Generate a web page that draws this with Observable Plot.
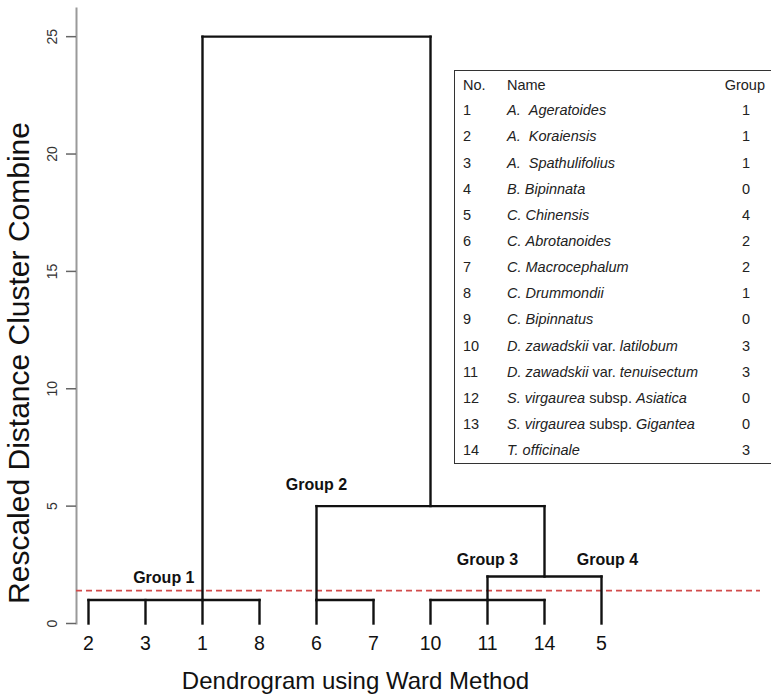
<!DOCTYPE html>
<html>
<head>
<meta charset="utf-8">
<script src="https://cdn.jsdelivr.net/npm/d3@7"></script>
<script src="https://cdn.jsdelivr.net/npm/@observablehq/plot@0.6"></script>
<style>
  html, body { margin: 0; padding: 0; background: #fff; overflow: hidden; }
  #wrap { position: relative; width: 771px; height: 698px; overflow: hidden; font-family: "Liberation Sans", Arial, sans-serif; }
  #wrap svg { position: absolute; left: 0; top: 0; }
  #legend { position: absolute; left: 454px; top: 70px; width: 330px; height: 394px; border: 1.5px solid #333; box-sizing: border-box; background: #fff; color: #222; font-size: 14.5px; }
  .row { position: absolute; left: 0; width: 100%; height: 26px; line-height: 26px; white-space: nowrap; }
  .c-no { position: absolute; left: 8px; }
  .c-name { position: absolute; left: 52px; }
  .c-grp { position: absolute; left: 270px; width: 42px; text-align: center; }
  .c-grph { position: absolute; left: 250px; width: 60px; text-align: right; }
</style>
</head>
<body>
<div id="wrap"></div>
<script>
// ---- Data ----
const leafOrder = ["2", "3", "1", "8", "6", "7", "10", "11", "14", "5"];
const nodeIds = ["G1", "G2a", "G3", "G34", "G2", "root"];
const nodeHeights = [1, 1, 1, 2, 5, 25];
const nodeChildren = [["2", "3", "1", "8"], ["6", "7"], ["10", "11", "14"], ["G3", "5"], ["G2a", "G34"], ["G1", "G2"]];
const nodeStems = ["1", "6", "11", "14", "10", null];
const cutHeight = 1.4;
const yTicks = [0, 5, 10, 15, 20, 25];
const groupLabels = ["Group 1", "Group 2", "Group 3", "Group 4"];
const groupLeaves = ["1", "6", "11", "5"];
const groupHeights = [1.95, 5.9, 2.7, 2.7];
const yTitle = "Rescaled Distance Cluster Combine";
const xTitle = "Dendrogram using Ward Method";

const tableNo = [1, 2, 3, 4, 5, 6, 7, 8, 9, 10, 11, 12, 13, 14];
const tableName = [
  "A.  Ageratoides", "A.  Koraiensis", "A.  Spathulifolius", "B. Bipinnata",
  "C. Chinensis", "C. Abrotanoides", "C. Macrocephalum", "C. Drummondii",
  "C. Bipinnatus", "D. zawadskii var. latilobum", "D. zawadskii var. tenuisectum",
  "S. virgaurea subsp. Asiatica", "S. virgaurea subsp. Gigantea", "T. officinale"
];
const tableGroup = [1, 1, 1, 0, 4, 2, 2, 1, 0, 3, 3, 0, 0, 3];
const tableHeader = ["No.", "Name", "Group"];

// ---- Derive dendrogram segments ----
const idx = new Map(nodeIds.map((d, i) => [d, i]));
const stemOf = c => idx.has(c) ? nodeStems[idx.get(c)] : c;
const heightOf = c => idx.has(c) ? nodeHeights[idx.get(c)] : 0;
const segs = [];
nodeIds.forEach((id, i) => {
  const h = nodeHeights[i];
  const xs = nodeChildren[i].map(stemOf).sort((a, b) => leafOrder.indexOf(a) - leafOrder.indexOf(b));
  segs.push({x1: xs[0], x2: xs[xs.length - 1], y1: h, y2: h});
  nodeChildren[i].forEach(c => segs.push({x1: stemOf(c), x2: stemOf(c), y1: heightOf(c), y2: h}));
});

const groupRows = groupLabels.map((t, i) => ({t, x: groupLeaves[i], y: groupHeights[i]}));
const font = "'Liberation Sans', Arial, sans-serif";
const gStyle = {x: "x", y: "y", text: "t", fontSize: 16, fontWeight: "bold", fill: "#111"};

const chart = Plot.plot({
  width: 771,
  height: 698,
  marginLeft: 76,
  marginRight: 11,
  marginTop: 8,
  marginBottom: 75,
  x: {type: "point", domain: leafOrder, range: [86, 603], padding: 0, axis: null},
  y: {domain: [0, 26.2], axis: null},
  style: {fontFamily: font, background: "white", color: "#111", overflow: "visible"},
  marks: [
    Plot.frame({anchor: "left", stroke: "#9a9a9a", strokeWidth: 2}),
    Plot.axisY({ticks: yTicks, tickSize: 10, tickFormat: () => "", stroke: "#666", strokeWidth: 1.5}),
    Plot.text(yTicks, {y: d => d, text: d => String(d), frameAnchor: "left", textAnchor: "middle", dx: -24, rotate: -90, fontSize: 14, fill: "#333"}),
    Plot.ruleY([cutHeight], {stroke: "#d24b4b", strokeDasharray: "6,4", strokeWidth: 1.6}),
    Plot.link(segs, {x1: "x1", x2: "x2", y1: "y1", y2: "y2", stroke: "#111", strokeWidth: 2.4, strokeLinecap: "square"}),
    Plot.text(leafOrder, {x: d => d, text: d => d, frameAnchor: "bottom", dy: 26, fontSize: 19.5, fill: "#111"}),
    Plot.text(groupRows.slice(0, 1), {...gStyle, textAnchor: "end", dx: -8}),
    Plot.text(groupRows.slice(1, 3), gStyle),
    Plot.text(groupRows.slice(3), {...gStyle, dx: 6}),
    Plot.text([yTitle], {frameAnchor: "left", textAnchor: "middle", dx: -57, dy: 47, rotate: -90, fontSize: 30, fill: "#111"}),
    Plot.text([xTitle], {frameAnchor: "bottom-left", textAnchor: "middle", dx: 279, dy: 65, fontSize: 24, fill: "#111"})
  ]
});
const wrap = document.getElementById("wrap");
wrap.appendChild(chart);

// ---- Table legend ----
const fmtName = s => s.split(/(\s+)/).map(w => (w === "var." || w === "subsp." || /^\s+$/.test(w)) ? w.replace(/ /g, "&nbsp;") : `<i>${w}</i>`).join("");
const legend = document.createElement("div");
legend.id = "legend";
let html = `<div class="row" style="top:1px"><span class="c-no">${tableHeader[0]}</span><span class="c-name">${tableHeader[1]}</span><span class="c-grph">${tableHeader[2]}</span></div>`;
tableNo.forEach((n, i) => {
  const top = 26.2 + i * 26.15;
  html += `<div class="row" style="top:${top}px"><span class="c-no">${n}</span><span class="c-name">${fmtName(tableName[i])}</span><span class="c-grp">${tableGroup[i]}</span></div>`;
});
legend.innerHTML = html;
wrap.appendChild(legend);
</script>
</body>
</html>
